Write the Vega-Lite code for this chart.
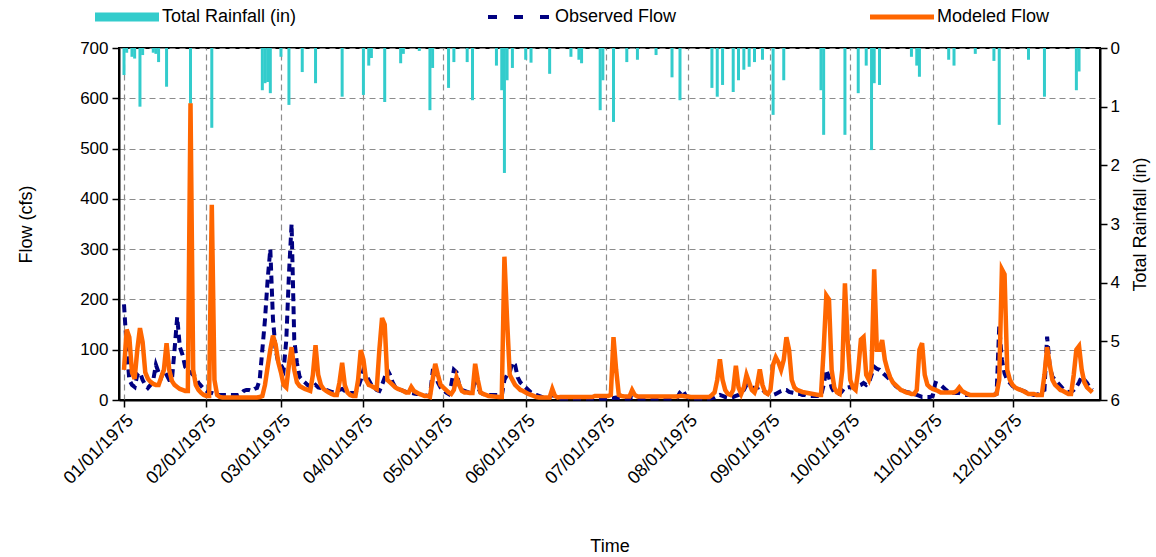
{
  "$schema": "https://vega.github.io/schema/vega-lite/v6.json",
  "width": 981,
  "height": 352,
  "autosize": "none",
  "padding": {"left": 119, "top": 48, "right": 56, "bottom": 157},
  "config": {
    "font": "Liberation Sans",
    "view": {"stroke": "#000000", "strokeWidth": 2},
    "axis": {
      "labelFontSize": 17, "titleFontSize": 18, "labelColor": "#000000", "titleColor": "#000000",
      "titleFontWeight": "normal", "domainColor": "#000000", "domainWidth": 2, "tickColor": "#000000",
      "tickWidth": 1.5, "tickSize": 7, "gridColor": "#8c8c8c", "gridDash": [6, 4], "gridWidth": 1.2
    }
  },
  "datasets": {
    "rain": [
      {"date": "1975-01-01", "rain": 0.46}, {"date": "1975-01-02", "rain": 0.08}, {"date": "1975-01-04", "rain": 0.15},
      {"date": "1975-01-05", "rain": 0.18}, {"date": "1975-01-07", "rain": 1.0}, {"date": "1975-01-08", "rain": 0.12},
      {"date": "1975-01-12", "rain": 0.08}, {"date": "1975-01-13", "rain": 0.1}, {"date": "1975-01-14", "rain": 0.24},
      {"date": "1975-01-17", "rain": 0.66}, {"date": "1975-01-26", "rain": 0.95}, {"date": "1975-02-03", "rain": 1.36},
      {"date": "1975-02-22", "rain": 0.72}, {"date": "1975-02-23", "rain": 0.6}, {"date": "1975-02-24", "rain": 0.58},
      {"date": "1975-02-25", "rain": 0.77}, {"date": "1975-03-01", "rain": 0.15}, {"date": "1975-03-04", "rain": 0.97},
      {"date": "1975-03-09", "rain": 0.41}, {"date": "1975-03-14", "rain": 0.6}, {"date": "1975-03-24", "rain": 0.83},
      {"date": "1975-04-01", "rain": 0.8}, {"date": "1975-04-03", "rain": 0.3}, {"date": "1975-04-04", "rain": 0.17},
      {"date": "1975-04-09", "rain": 0.92}, {"date": "1975-04-15", "rain": 0.26}, {"date": "1975-04-16", "rain": 0.1},
      {"date": "1975-04-22", "rain": 0.05}, {"date": "1975-04-26", "rain": 1.06}, {"date": "1975-04-27", "rain": 0.34},
      {"date": "1975-05-03", "rain": 0.68}, {"date": "1975-05-05", "rain": 0.24}, {"date": "1975-05-10", "rain": 0.24},
      {"date": "1975-05-12", "rain": 0.89}, {"date": "1975-05-21", "rain": 0.3}, {"date": "1975-05-23", "rain": 0.72},
      {"date": "1975-05-24", "rain": 2.13}, {"date": "1975-05-25", "rain": 0.55}, {"date": "1975-05-27", "rain": 0.34},
      {"date": "1975-06-01", "rain": 0.2}, {"date": "1975-06-03", "rain": 0.25}, {"date": "1975-06-10", "rain": 0.44},
      {"date": "1975-06-18", "rain": 0.15}, {"date": "1975-06-21", "rain": 0.2}, {"date": "1975-06-22", "rain": 0.26},
      {"date": "1975-06-29", "rain": 1.06}, {"date": "1975-06-30", "rain": 0.55}, {"date": "1975-07-04", "rain": 1.26},
      {"date": "1975-07-09", "rain": 0.24}, {"date": "1975-07-13", "rain": 0.2}, {"date": "1975-07-20", "rain": 0.12},
      {"date": "1975-07-26", "rain": 0.5}, {"date": "1975-07-29", "rain": 0.89}, {"date": "1975-08-10", "rain": 0.68},
      {"date": "1975-08-12", "rain": 0.83}, {"date": "1975-08-14", "rain": 0.63}, {"date": "1975-08-18", "rain": 0.75},
      {"date": "1975-08-20", "rain": 0.55}, {"date": "1975-08-22", "rain": 0.37}, {"date": "1975-08-24", "rain": 0.32},
      {"date": "1975-08-26", "rain": 0.24}, {"date": "1975-08-29", "rain": 0.2}, {"date": "1975-09-02", "rain": 1.14},
      {"date": "1975-09-06", "rain": 0.55}, {"date": "1975-09-20", "rain": 0.72}, {"date": "1975-09-21", "rain": 1.48},
      {"date": "1975-09-29", "rain": 1.48}, {"date": "1975-10-04", "rain": 0.77}, {"date": "1975-10-07", "rain": 0.3},
      {"date": "1975-10-09", "rain": 1.74}, {"date": "1975-10-10", "rain": 0.6}, {"date": "1975-10-12", "rain": 0.63},
      {"date": "1975-10-24", "rain": 0.15}, {"date": "1975-10-26", "rain": 0.3}, {"date": "1975-10-27", "rain": 0.49},
      {"date": "1975-11-07", "rain": 0.2}, {"date": "1975-11-09", "rain": 0.3}, {"date": "1975-11-17", "rain": 0.1},
      {"date": "1975-11-24", "rain": 0.22}, {"date": "1975-11-26", "rain": 1.31}, {"date": "1975-12-07", "rain": 0.2},
      {"date": "1975-12-13", "rain": 0.83}, {"date": "1975-12-25", "rain": 0.72}, {"date": "1975-12-26", "rain": 0.4}
    ],
    "flow": [
      {"date": "1975-01-01", "modeled": 60, "observed": 190}, {"date": "1975-01-02", "modeled": 140, "observed": 105},
      {"date": "1975-01-03", "modeled": 125, "observed": 40}, {"date": "1975-01-04", "modeled": 55, "observed": 30},
      {"date": "1975-01-05", "modeled": 42, "observed": 26}, {"date": "1975-01-06", "modeled": 100, "observed": 50},
      {"date": "1975-01-07", "modeled": 143, "observed": 55}, {"date": "1975-01-08", "modeled": 115, "observed": 40},
      {"date": "1975-01-09", "modeled": 55, "observed": 30}, {"date": "1975-01-10", "modeled": 42, "observed": 24},
      {"date": "1975-01-11", "modeled": 36, "observed": 30}, {"date": "1975-01-12", "modeled": 32, "observed": 40},
      {"date": "1975-01-13", "modeled": 30, "observed": 70}, {"date": "1975-01-14", "modeled": 30, "observed": 55},
      {"date": "1975-01-15", "modeled": 45, "observed": 45}, {"date": "1975-01-16", "modeled": 60, "observed": 60},
      {"date": "1975-01-17", "modeled": 113, "observed": 50}, {"date": "1975-01-18", "modeled": 60, "observed": 40},
      {"date": "1975-01-19", "modeled": 38, "observed": 40}, {"date": "1975-01-20", "modeled": 30, "observed": 100},
      {"date": "1975-01-21", "modeled": 26, "observed": 165}, {"date": "1975-01-22", "modeled": 22, "observed": 105},
      {"date": "1975-01-23", "modeled": 20, "observed": 90}, {"date": "1975-01-24", "modeled": 18, "observed": 66},
      {"date": "1975-01-25", "modeled": 18, "observed": 60}, {"date": "1975-01-26", "modeled": 590, "observed": 55},
      {"date": "1975-01-27", "modeled": 60, "observed": 50}, {"date": "1975-01-28", "modeled": 30, "observed": 46},
      {"date": "1975-01-29", "modeled": 20, "observed": 34}, {"date": "1975-01-30", "modeled": 14, "observed": 28},
      {"date": "1975-01-31", "modeled": 10, "observed": 22}, {"date": "1975-02-01", "modeled": 8, "observed": 18},
      {"date": "1975-02-02", "modeled": 8, "observed": 14}, {"date": "1975-02-03", "modeled": 388, "observed": 14},
      {"date": "1975-02-04", "modeled": 40, "observed": 12}, {"date": "1975-02-05", "modeled": 10, "observed": 10},
      {"date": "1975-02-06", "modeled": 6, "observed": 10}, {"date": "1975-02-07", "modeled": 5, "observed": 10},
      {"date": "1975-02-13", "modeled": 5, "observed": 10}, {"date": "1975-02-14", "modeled": 5, "observed": 12},
      {"date": "1975-02-15", "modeled": 5, "observed": 18}, {"date": "1975-02-16", "modeled": 5, "observed": 20},
      {"date": "1975-02-17", "modeled": 5, "observed": 20}, {"date": "1975-02-18", "modeled": 5, "observed": 18},
      {"date": "1975-02-19", "modeled": 5, "observed": 22}, {"date": "1975-02-20", "modeled": 5, "observed": 24},
      {"date": "1975-02-21", "modeled": 6, "observed": 40}, {"date": "1975-02-22", "modeled": 8, "observed": 100},
      {"date": "1975-02-23", "modeled": 30, "observed": 160}, {"date": "1975-02-24", "modeled": 66, "observed": 240},
      {"date": "1975-02-25", "modeled": 100, "observed": 300}, {"date": "1975-02-26", "modeled": 128, "observed": 160},
      {"date": "1975-02-27", "modeled": 110, "observed": 100}, {"date": "1975-02-28", "modeled": 75, "observed": 74},
      {"date": "1975-03-01", "modeled": 55, "observed": 70}, {"date": "1975-03-02", "modeled": 30, "observed": 60},
      {"date": "1975-03-03", "modeled": 25, "observed": 119}, {"date": "1975-03-04", "modeled": 70, "observed": 250},
      {"date": "1975-03-05", "modeled": 105, "observed": 350}, {"date": "1975-03-06", "modeled": 60, "observed": 120},
      {"date": "1975-03-07", "modeled": 35, "observed": 74}, {"date": "1975-03-08", "modeled": 28, "observed": 46},
      {"date": "1975-03-09", "modeled": 25, "observed": 40}, {"date": "1975-03-10", "modeled": 22, "observed": 35},
      {"date": "1975-03-11", "modeled": 20, "observed": 30}, {"date": "1975-03-12", "modeled": 18, "observed": 26},
      {"date": "1975-03-13", "modeled": 50, "observed": 25}, {"date": "1975-03-14", "modeled": 109, "observed": 30},
      {"date": "1975-03-15", "modeled": 50, "observed": 25}, {"date": "1975-03-16", "modeled": 30, "observed": 24},
      {"date": "1975-03-17", "modeled": 22, "observed": 22}, {"date": "1975-03-18", "modeled": 18, "observed": 20},
      {"date": "1975-03-19", "modeled": 15, "observed": 18}, {"date": "1975-03-20", "modeled": 12, "observed": 16},
      {"date": "1975-03-21", "modeled": 10, "observed": 16}, {"date": "1975-03-22", "modeled": 10, "observed": 18},
      {"date": "1975-03-23", "modeled": 35, "observed": 20}, {"date": "1975-03-24", "modeled": 74, "observed": 22},
      {"date": "1975-03-25", "modeled": 30, "observed": 18}, {"date": "1975-03-26", "modeled": 15, "observed": 15},
      {"date": "1975-03-27", "modeled": 10, "observed": 14}, {"date": "1975-03-28", "modeled": 8, "observed": 14},
      {"date": "1975-03-29", "modeled": 8, "observed": 14}, {"date": "1975-03-30", "modeled": 40, "observed": 25},
      {"date": "1975-03-31", "modeled": 99, "observed": 40}, {"date": "1975-04-01", "modeled": 80, "observed": 60},
      {"date": "1975-04-02", "modeled": 40, "observed": 50}, {"date": "1975-04-03", "modeled": 30, "observed": 40},
      {"date": "1975-04-04", "modeled": 28, "observed": 30}, {"date": "1975-04-05", "modeled": 25, "observed": 25},
      {"date": "1975-04-06", "modeled": 22, "observed": 20}, {"date": "1975-04-07", "modeled": 100, "observed": 18},
      {"date": "1975-04-08", "modeled": 163, "observed": 30}, {"date": "1975-04-09", "modeled": 150, "observed": 45},
      {"date": "1975-04-10", "modeled": 40, "observed": 60}, {"date": "1975-04-11", "modeled": 35, "observed": 50},
      {"date": "1975-04-12", "modeled": 30, "observed": 35}, {"date": "1975-04-13", "modeled": 25, "observed": 25},
      {"date": "1975-04-14", "modeled": 22, "observed": 22}, {"date": "1975-04-15", "modeled": 20, "observed": 20},
      {"date": "1975-04-16", "modeled": 18, "observed": 18}, {"date": "1975-04-17", "modeled": 15, "observed": 16},
      {"date": "1975-04-18", "modeled": 15, "observed": 15}, {"date": "1975-04-19", "modeled": 26, "observed": 14},
      {"date": "1975-04-20", "modeled": 18, "observed": 13}, {"date": "1975-04-21", "modeled": 15, "observed": 12},
      {"date": "1975-04-22", "modeled": 12, "observed": 12}, {"date": "1975-04-23", "modeled": 10, "observed": 11},
      {"date": "1975-04-24", "modeled": 8, "observed": 10}, {"date": "1975-04-25", "modeled": 8, "observed": 8},
      {"date": "1975-04-26", "modeled": 6, "observed": 8}, {"date": "1975-04-27", "modeled": 40, "observed": 55},
      {"date": "1975-04-28", "modeled": 72, "observed": 50}, {"date": "1975-04-29", "modeled": 50, "observed": 35},
      {"date": "1975-04-30", "modeled": 30, "observed": 25}, {"date": "1975-05-01", "modeled": 25, "observed": 20},
      {"date": "1975-05-02", "modeled": 20, "observed": 15}, {"date": "1975-05-03", "modeled": 15, "observed": 12},
      {"date": "1975-05-04", "modeled": 12, "observed": 30}, {"date": "1975-05-05", "modeled": 20, "observed": 60},
      {"date": "1975-05-06", "modeled": 45, "observed": 55}, {"date": "1975-05-07", "modeled": 30, "observed": 30},
      {"date": "1975-05-08", "modeled": 18, "observed": 20}, {"date": "1975-05-09", "modeled": 15, "observed": 18},
      {"date": "1975-05-10", "modeled": 15, "observed": 16}, {"date": "1975-05-11", "modeled": 14, "observed": 14},
      {"date": "1975-05-12", "modeled": 14, "observed": 14}, {"date": "1975-05-13", "modeled": 72, "observed": 45},
      {"date": "1975-05-14", "modeled": 40, "observed": 25}, {"date": "1975-05-15", "modeled": 15, "observed": 15},
      {"date": "1975-05-16", "modeled": 12, "observed": 12}, {"date": "1975-05-17", "modeled": 10, "observed": 10},
      {"date": "1975-05-18", "modeled": 8, "observed": 10}, {"date": "1975-05-20", "modeled": 7, "observed": 10},
      {"date": "1975-05-22", "modeled": 6, "observed": 10}, {"date": "1975-05-23", "modeled": 6, "observed": 8},
      {"date": "1975-05-24", "modeled": 285, "observed": 40}, {"date": "1975-05-25", "modeled": 160, "observed": 50},
      {"date": "1975-05-26", "modeled": 50, "observed": 55}, {"date": "1975-05-27", "modeled": 40, "observed": 75},
      {"date": "1975-05-28", "modeled": 30, "observed": 70}, {"date": "1975-05-29", "modeled": 25, "observed": 45},
      {"date": "1975-05-30", "modeled": 20, "observed": 35}, {"date": "1975-05-31", "modeled": 18, "observed": 30},
      {"date": "1975-06-01", "modeled": 15, "observed": 25}, {"date": "1975-06-02", "modeled": 12, "observed": 20},
      {"date": "1975-06-03", "modeled": 10, "observed": 15}, {"date": "1975-06-04", "modeled": 8, "observed": 12},
      {"date": "1975-06-05", "modeled": 6, "observed": 10}, {"date": "1975-06-06", "modeled": 5, "observed": 8},
      {"date": "1975-06-07", "modeled": 5, "observed": 6}, {"date": "1975-06-10", "modeled": 5, "observed": 6},
      {"date": "1975-06-11", "modeled": 22, "observed": 10}, {"date": "1975-06-12", "modeled": 8, "observed": 8},
      {"date": "1975-06-13", "modeled": 5, "observed": 5}, {"date": "1975-06-14", "modeled": 6, "observed": 3},
      {"date": "1975-06-26", "modeled": 6, "observed": 3}, {"date": "1975-06-27", "modeled": 8, "observed": 3},
      {"date": "1975-07-02", "modeled": 8, "observed": 3}, {"date": "1975-07-03", "modeled": 10, "observed": 4},
      {"date": "1975-07-04", "modeled": 125, "observed": 4}, {"date": "1975-07-05", "modeled": 60, "observed": 5},
      {"date": "1975-07-06", "modeled": 10, "observed": 4}, {"date": "1975-07-07", "modeled": 8, "observed": 3},
      {"date": "1975-07-08", "modeled": 7, "observed": 3}, {"date": "1975-07-10", "modeled": 7, "observed": 3},
      {"date": "1975-07-11", "modeled": 20, "observed": 5}, {"date": "1975-07-12", "modeled": 10, "observed": 4},
      {"date": "1975-07-13", "modeled": 7, "observed": 3}, {"date": "1975-07-27", "modeled": 7, "observed": 3},
      {"date": "1975-07-28", "modeled": 7, "observed": 5}, {"date": "1975-07-29", "modeled": 8, "observed": 15},
      {"date": "1975-07-30", "modeled": 8, "observed": 20}, {"date": "1975-07-31", "modeled": 7, "observed": 10},
      {"date": "1975-08-01", "modeled": 7, "observed": 5}, {"date": "1975-08-02", "modeled": 6, "observed": 3},
      {"date": "1975-08-09", "modeled": 6, "observed": 3}, {"date": "1975-08-10", "modeled": 10, "observed": 4},
      {"date": "1975-08-11", "modeled": 15, "observed": 5}, {"date": "1975-08-12", "modeled": 40, "observed": 8},
      {"date": "1975-08-13", "modeled": 81, "observed": 10}, {"date": "1975-08-14", "modeled": 40, "observed": 8},
      {"date": "1975-08-15", "modeled": 20, "observed": 6}, {"date": "1975-08-16", "modeled": 12, "observed": 5},
      {"date": "1975-08-17", "modeled": 10, "observed": 5}, {"date": "1975-08-18", "modeled": 20, "observed": 6},
      {"date": "1975-08-19", "modeled": 68, "observed": 8}, {"date": "1975-08-20", "modeled": 25, "observed": 10},
      {"date": "1975-08-21", "modeled": 12, "observed": 15}, {"date": "1975-08-22", "modeled": 25, "observed": 20},
      {"date": "1975-08-23", "modeled": 50, "observed": 30}, {"date": "1975-08-24", "modeled": 35, "observed": 28},
      {"date": "1975-08-25", "modeled": 20, "observed": 26}, {"date": "1975-08-26", "modeled": 15, "observed": 22},
      {"date": "1975-08-27", "modeled": 30, "observed": 24}, {"date": "1975-08-28", "modeled": 61, "observed": 26},
      {"date": "1975-08-29", "modeled": 30, "observed": 20}, {"date": "1975-08-30", "modeled": 15, "observed": 16},
      {"date": "1975-08-31", "modeled": 12, "observed": 12}, {"date": "1975-09-01", "modeled": 20, "observed": 10},
      {"date": "1975-09-02", "modeled": 70, "observed": 10}, {"date": "1975-09-03", "modeled": 85, "observed": 12},
      {"date": "1975-09-04", "modeled": 75, "observed": 15}, {"date": "1975-09-05", "modeled": 60, "observed": 18},
      {"date": "1975-09-06", "modeled": 80, "observed": 20}, {"date": "1975-09-07", "modeled": 125, "observed": 20},
      {"date": "1975-09-08", "modeled": 100, "observed": 16}, {"date": "1975-09-09", "modeled": 40, "observed": 15},
      {"date": "1975-09-10", "modeled": 25, "observed": 14}, {"date": "1975-09-11", "modeled": 20, "observed": 12},
      {"date": "1975-09-12", "modeled": 18, "observed": 12}, {"date": "1975-09-13", "modeled": 16, "observed": 10},
      {"date": "1975-09-14", "modeled": 15, "observed": 10}, {"date": "1975-09-15", "modeled": 14, "observed": 8},
      {"date": "1975-09-16", "modeled": 13, "observed": 8}, {"date": "1975-09-17", "modeled": 12, "observed": 8},
      {"date": "1975-09-18", "modeled": 11, "observed": 8}, {"date": "1975-09-19", "modeled": 10, "observed": 8},
      {"date": "1975-09-20", "modeled": 10, "observed": 8}, {"date": "1975-09-21", "modeled": 100, "observed": 30},
      {"date": "1975-09-22", "modeled": 208, "observed": 60}, {"date": "1975-09-23", "modeled": 200, "observed": 45},
      {"date": "1975-09-24", "modeled": 60, "observed": 25}, {"date": "1975-09-25", "modeled": 25, "observed": 15},
      {"date": "1975-09-26", "modeled": 15, "observed": 12}, {"date": "1975-09-27", "modeled": 12, "observed": 12},
      {"date": "1975-09-28", "modeled": 60, "observed": 18}, {"date": "1975-09-29", "modeled": 232, "observed": 25},
      {"date": "1975-09-30", "modeled": 120, "observed": 25}, {"date": "1975-10-01", "modeled": 40, "observed": 26},
      {"date": "1975-10-02", "modeled": 25, "observed": 25}, {"date": "1975-10-03", "modeled": 20, "observed": 26},
      {"date": "1975-10-04", "modeled": 60, "observed": 28}, {"date": "1975-10-05", "modeled": 120, "observed": 30},
      {"date": "1975-10-06", "modeled": 125, "observed": 34}, {"date": "1975-10-07", "modeled": 50, "observed": 30},
      {"date": "1975-10-08", "modeled": 40, "observed": 34}, {"date": "1975-10-09", "modeled": 60, "observed": 50},
      {"date": "1975-10-10", "modeled": 260, "observed": 66}, {"date": "1975-10-11", "modeled": 100, "observed": 62},
      {"date": "1975-10-12", "modeled": 100, "observed": 60}, {"date": "1975-10-13", "modeled": 119, "observed": 55},
      {"date": "1975-10-14", "modeled": 80, "observed": 50}, {"date": "1975-10-15", "modeled": 60, "observed": 45},
      {"date": "1975-10-16", "modeled": 45, "observed": 40}, {"date": "1975-10-17", "modeled": 35, "observed": 35},
      {"date": "1975-10-18", "modeled": 30, "observed": 28}, {"date": "1975-10-19", "modeled": 25, "observed": 24},
      {"date": "1975-10-20", "modeled": 20, "observed": 20}, {"date": "1975-10-21", "modeled": 18, "observed": 18},
      {"date": "1975-10-22", "modeled": 15, "observed": 16}, {"date": "1975-10-23", "modeled": 14, "observed": 15},
      {"date": "1975-10-24", "modeled": 12, "observed": 14}, {"date": "1975-10-25", "modeled": 12, "observed": 12},
      {"date": "1975-10-26", "modeled": 20, "observed": 10}, {"date": "1975-10-27", "modeled": 100, "observed": 8},
      {"date": "1975-10-28", "modeled": 113, "observed": 6}, {"date": "1975-10-29", "modeled": 50, "observed": 6},
      {"date": "1975-10-30", "modeled": 30, "observed": 6}, {"date": "1975-10-31", "modeled": 25, "observed": 6},
      {"date": "1975-11-01", "modeled": 22, "observed": 8}, {"date": "1975-11-02", "modeled": 20, "observed": 34},
      {"date": "1975-11-03", "modeled": 18, "observed": 32}, {"date": "1975-11-04", "modeled": 15, "observed": 30},
      {"date": "1975-11-05", "modeled": 15, "observed": 25}, {"date": "1975-11-06", "modeled": 15, "observed": 20},
      {"date": "1975-11-07", "modeled": 15, "observed": 16}, {"date": "1975-11-08", "modeled": 15, "observed": 15},
      {"date": "1975-11-09", "modeled": 15, "observed": 14}, {"date": "1975-11-10", "modeled": 18, "observed": 14},
      {"date": "1975-11-11", "modeled": 25, "observed": 14}, {"date": "1975-11-12", "modeled": 18, "observed": 12},
      {"date": "1975-11-13", "modeled": 15, "observed": 10}, {"date": "1975-11-14", "modeled": 12, "observed": 10},
      {"date": "1975-11-15", "modeled": 10, "observed": 10}, {"date": "1975-11-24", "modeled": 10, "observed": 10},
      {"date": "1975-11-25", "modeled": 12, "observed": 12}, {"date": "1975-11-26", "modeled": 40, "observed": 146},
      {"date": "1975-11-27", "modeled": 260, "observed": 80}, {"date": "1975-11-28", "modeled": 250, "observed": 53},
      {"date": "1975-11-29", "modeled": 60, "observed": 40}, {"date": "1975-11-30", "modeled": 40, "observed": 34},
      {"date": "1975-12-01", "modeled": 30, "observed": 28}, {"date": "1975-12-02", "modeled": 25, "observed": 24},
      {"date": "1975-12-03", "modeled": 22, "observed": 22}, {"date": "1975-12-04", "modeled": 20, "observed": 20},
      {"date": "1975-12-05", "modeled": 18, "observed": 18}, {"date": "1975-12-06", "modeled": 15, "observed": 16},
      {"date": "1975-12-07", "modeled": 12, "observed": 14}, {"date": "1975-12-08", "modeled": 12, "observed": 12},
      {"date": "1975-12-09", "modeled": 12, "observed": 10}, {"date": "1975-12-10", "modeled": 10, "observed": 10},
      {"date": "1975-12-11", "modeled": 10, "observed": 12}, {"date": "1975-12-12", "modeled": 10, "observed": 18},
      {"date": "1975-12-13", "modeled": 50, "observed": 20}, {"date": "1975-12-14", "modeled": 105, "observed": 126},
      {"date": "1975-12-15", "modeled": 70, "observed": 66}, {"date": "1975-12-16", "modeled": 40, "observed": 46},
      {"date": "1975-12-17", "modeled": 30, "observed": 40}, {"date": "1975-12-18", "modeled": 25, "observed": 34},
      {"date": "1975-12-19", "modeled": 20, "observed": 28}, {"date": "1975-12-20", "modeled": 18, "observed": 22},
      {"date": "1975-12-21", "modeled": 15, "observed": 18}, {"date": "1975-12-22", "modeled": 12, "observed": 16},
      {"date": "1975-12-23", "modeled": 12, "observed": 16}, {"date": "1975-12-24", "modeled": 50, "observed": 20},
      {"date": "1975-12-25", "modeled": 100, "observed": 26}, {"date": "1975-12-26", "modeled": 107, "observed": 35},
      {"date": "1975-12-27", "modeled": 60, "observed": 46}, {"date": "1975-12-28", "modeled": 35, "observed": 40},
      {"date": "1975-12-29", "modeled": 25, "observed": 34}, {"date": "1975-12-30", "modeled": 20, "observed": 25},
      {"date": "1975-12-31", "modeled": 15, "observed": 20}
    ]
  },
  "encoding": {
    "x": {
      "field": "date", "type": "temporal", "title": "Time",
      "scale": {"type": "utc", "domain": [{"year": 1975, "month": 1, "date": 1, "utc": true}, {"year": 1976, "month": 1, "date": 1, "utc": true}]},
      "axis": {
        "values": [
          {"year": 1975, "month": 1, "date": 1, "utc": true}, {"year": 1975, "month": 2, "date": 1, "utc": true},
          {"year": 1975, "month": 3, "date": 1, "utc": true}, {"year": 1975, "month": 4, "date": 1, "utc": true},
          {"year": 1975, "month": 5, "date": 1, "utc": true}, {"year": 1975, "month": 6, "date": 1, "utc": true},
          {"year": 1975, "month": 7, "date": 1, "utc": true}, {"year": 1975, "month": 8, "date": 1, "utc": true},
          {"year": 1975, "month": 9, "date": 1, "utc": true}, {"year": 1975, "month": 10, "date": 1, "utc": true},
          {"year": 1975, "month": 11, "date": 1, "utc": true}, {"year": 1975, "month": 12, "date": 1, "utc": true}
        ],
        "format": "%m/%d/%Y", "labelAngle": -45, "labelFontSize": 18, "labelOverlap": false, "grid": true, "labelPadding": 4, "titlePadding": 50
      }
    }
  },
  "layer": [
    {
      "data": {"name": "rain"},
      "mark": {"type": "bar", "size": 3},
      "encoding": {
        "y": {
          "field": "rain", "type": "quantitative", "title": "Total Rainfall (in)",
          "scale": {"domain": [0, 6], "reverse": true},
          "axis": {"orient": "right", "values": [0, 1, 2, 3, 4, 5, 6], "grid": false, "labelPadding": 3, "titlePadding": 12, "titleAngle": 270, "titleBaseline": "top"}
        },
        "color": {
          "datum": "Total Rainfall (in)", "type": "nominal",
          "scale": {"domain": ["Total Rainfall (in)", "Observed Flow", "Modeled Flow"], "range": ["#33CCCC", "#000080", "#FF6600"]},
          "legend": {
            "orient": "none", "legendX": -1, "legendY": -40, "direction": "horizontal", "columns": 3, "gridAlign": "none",
            "title": null, "symbolType": "stroke", "symbolSize": 4096, "symbolStrokeWidth": 5, "columnPadding": 183,
            "labelFontSize": 18, "labelColor": "#000000", "labelOffset": 26, "padding": 0,
            "encode": {
              "symbols": {
                "update": {
                  "fill": {"value": "transparent"},
                  "stroke": {"scale": "color", "field": "value"},
                  "strokeWidth": {"signal": "datum.value === 'Total Rainfall (in)' ? 9 : (datum.value === 'Observed Flow' ? 4 : 5)"},
                  "strokeDash": {"signal": "datum.value === 'Observed Flow' ? [9, 17] : [1, 0]"},
                  "opacity": {"value": 1}
                }
              }
            }
          }
        }
      }
    },
    {
      "data": {"name": "flow"},
      "layer": [
        {
          "mark": {"type": "line", "strokeWidth": 4, "strokeDash": [8, 5]},
          "encoding": {
            "y": {
              "field": "observed", "type": "quantitative", "title": "Flow (cfs)",
              "scale": {"domain": [0, 700]},
              "axis": {"orient": "left", "values": [0, 100, 200, 300, 400, 500, 600, 700], "grid": true, "labelPadding": 4, "titlePadding": 44}
            },
            "color": {"datum": "Observed Flow", "type": "nominal"}
          }
        },
        {
          "mark": {"type": "line", "strokeWidth": 4.5},
          "encoding": {
            "y": {"field": "modeled", "type": "quantitative"},
            "color": {"datum": "Modeled Flow", "type": "nominal"}
          }
        }
      ]
    }
  ],
  "resolve": {"scale": {"y": "independent"}}
}
